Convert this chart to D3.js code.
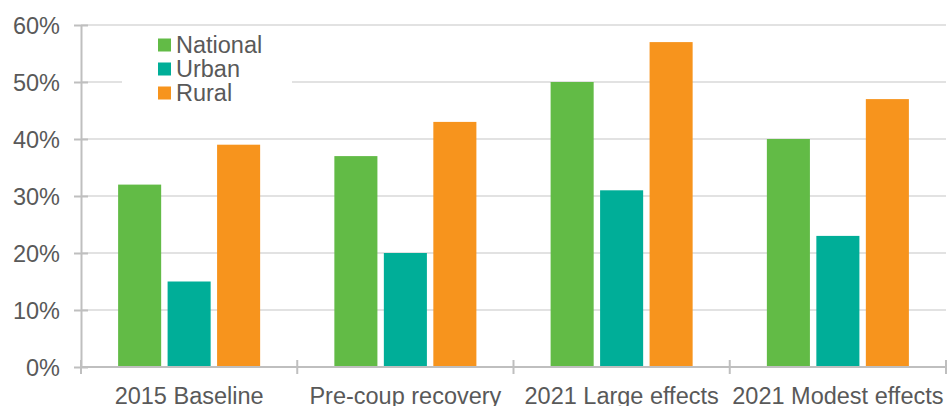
<!DOCTYPE html>
<html><head><meta charset="utf-8">
<script src="https://cdn.jsdelivr.net/npm/d3@7"></script>
<style>body{margin:0;background:#fff}svg{display:block;font-family:"Liberation Sans",Arial,sans-serif}</style>
</head><body><svg id="c" width="947" height="406"></svg>
<script>
const categories = ["2015 Baseline","Pre-coup recovery","2021 Large effects","2021 Modest effects"];
const seriesNames = ["National","Urban","Rural"];
const national = [32,37,50,40];
const urban = [15,20,31,23];
const rural = [39,43,57,47];
const colors = ["#62bb46","#00ae98","#f7941d"];
const yTicks = [0,10,20,30,40,50,60];

(function(){
const svg = d3.select("#c");
const mLeft = 81, mRight = 946, mTop = 25, mBottom = 367;
const fs = 23.5;
const x = d3.scaleBand().domain(categories).range([mLeft,mRight]).paddingInner(0).paddingOuter(0);
const y = d3.scaleLinear().domain([0,60]).range([mBottom,mTop]);
const inner = d3.scaleBand().domain(seriesNames).range([0,x.bandwidth()]).paddingInner(0.13).paddingOuter(0.75);
const series = [national,urban,rural];

svg.append("g").selectAll("line").data(yTicks.filter(d=>d>0)).join("line")
  .attr("x1",mLeft).attr("x2",mRight).attr("y1",d=>y(d)).attr("y2",d=>y(d))
  .attr("stroke","#d9d9d9").attr("stroke-width",1.5);

seriesNames.forEach((s,i)=>{
  svg.append("g").selectAll("rect").data(categories).join("rect")
    .attr("x",c=>x(c)+inner(s)).attr("width",inner.bandwidth())
    .attr("y",(c,j)=>y(series[i][j])).attr("height",(c,j)=>mBottom-y(series[i][j]))
    .attr("fill",colors[i]);
});

const ya = svg.append("g").attr("transform",`translate(${mLeft},0)`)
  .call(d3.axisLeft(y).tickValues(yTicks).tickFormat(d=>d+"%").tickSizeInner(7).tickSizeOuter(0).tickPadding(14));
ya.select(".domain").attr("stroke","#bfbfbf").attr("stroke-width",2);
ya.selectAll(".tick line").attr("stroke","#bfbfbf").attr("stroke-width",2).attr("x2",7).attr("x1",-7);
ya.selectAll(".tick text").attr("fill","#595959").attr("font-size",fs).attr("dy","0.35em").attr("x",-21);

const xa = svg.append("g").attr("transform",`translate(0,${mBottom})`)
  .call(d3.axisBottom(x).tickSize(0).tickPadding(18));
xa.select(".domain").attr("d",`M${mLeft},0H${mRight}`).attr("stroke","#bfbfbf").attr("stroke-width",2);
xa.selectAll(".tick text").attr("fill","#595959").attr("font-size",fs).attr("dy","0").attr("y",37);
const bounds = categories.map(c=>x(c)).concat([x(categories[categories.length-1])+x.bandwidth()]);
xa.selectAll(".sep").data(bounds).join("line").attr("class","sep")
  .attr("x1",d=>d).attr("x2",d=>d).attr("y1",-7).attr("y2",7)
  .attr("stroke","#bfbfbf").attr("stroke-width",2);

const lg = svg.append("g");
lg.append("rect").attr("x",122).attr("y",32).attr("width",170).attr("height",74).attr("fill","#fff");
seriesNames.forEach((s,i)=>{
  const yy = 45 + i*24;
  lg.append("rect").attr("x",158).attr("y",yy-6.5).attr("width",13).attr("height",13).attr("fill",colors[i]);
  lg.append("text").attr("x",176).attr("y",yy).attr("dy","0.35em").attr("font-size",fs).attr("fill","#595959").text(s);
});
})();
</script></body></html>
